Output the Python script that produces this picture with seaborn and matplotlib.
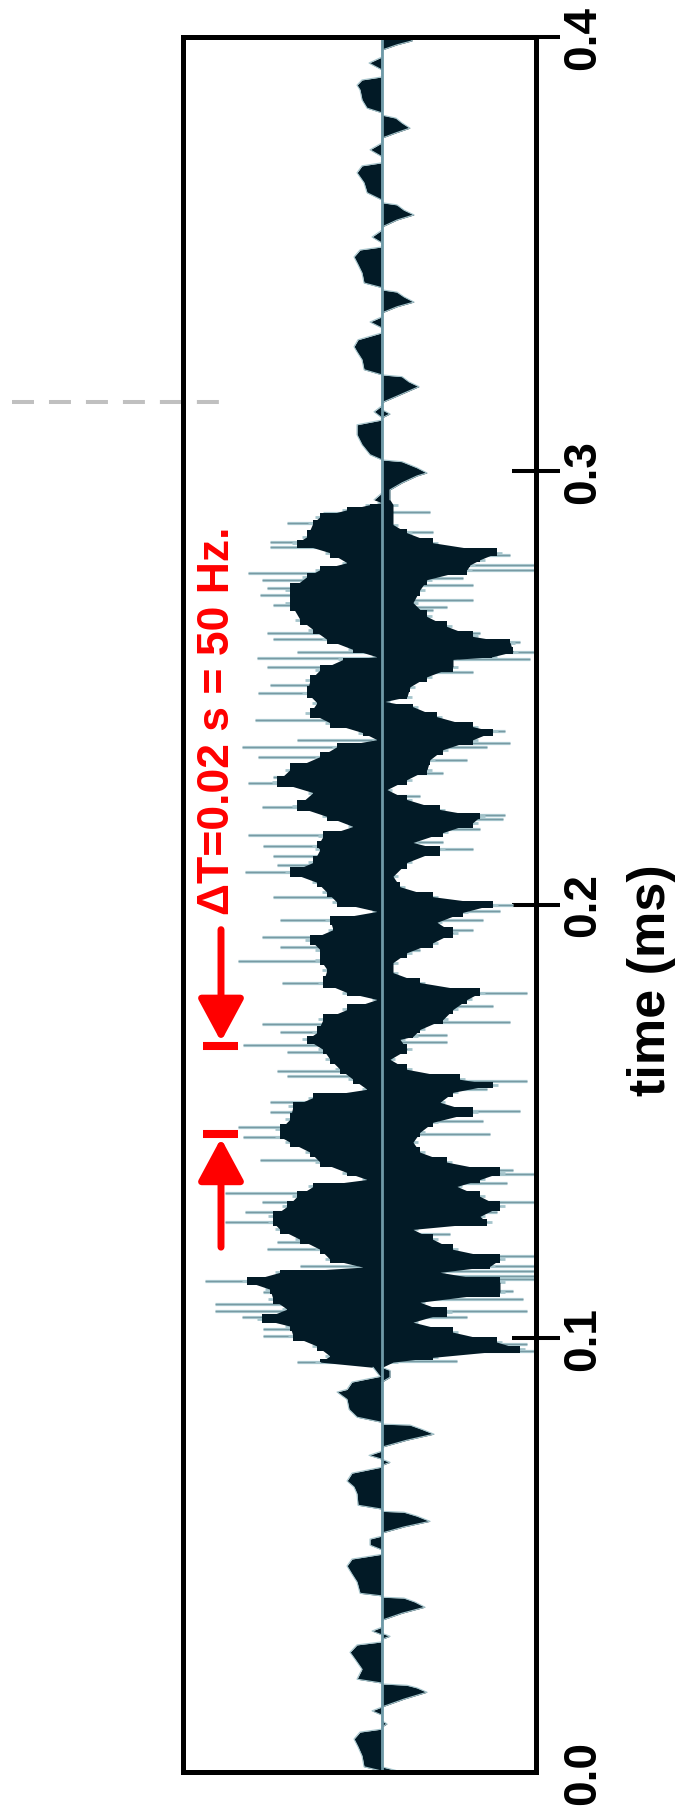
import matplotlib
matplotlib.use("Agg")
import matplotlib.pyplot as plt
from matplotlib.patches import FancyArrowPatch
import seaborn as sns
import pandas as pd

# ---------------- data ----------------
# negative (left) envelope of the waveform: time (ms), amplitude
t_neg = [
    0.0002, 0.0012, 0.0037, 0.0058, 0.0076, 0.0092, 0.0099,
    0.0131, 0.0141, 0.0150,
    0.0205, 0.0214, 0.0237, 0.0260, 0.0276, 0.0293, 0.0300,
    0.0316, 0.0325, 0.0334,
    0.0406, 0.0412, 0.0438, 0.0456, 0.0475, 0.0491, 0.0502,
    0.0512, 0.0523, 0.0537, 0.0544,
    0.0606, 0.0615, 0.0641, 0.0657, 0.0671, 0.0689, 0.0703,
    0.0721, 0.0730, 0.0740,
    0.0806, 0.0818, 0.0836, 0.0859, 0.0876, 0.0882, 0.0899, 0.0912, 0.0933,
    0.0945, 0.0959, 0.0982, 0.1005, 0.1028, 0.1044, 0.1067, 0.1090, 0.1113, 0.1131, 0.1152,
    0.1164, 0.1182, 0.1205, 0.1228, 0.1251, 0.1267, 0.1281, 0.1304, 0.1327, 0.1350,
    0.1366, 0.1382, 0.1406, 0.1429, 0.1452, 0.1465, 0.1482, 0.1505, 0.1535, 0.1555,
    0.1574, 0.1597, 0.1620, 0.1643, 0.1666, 0.1689, 0.1705, 0.1735, 0.1758,
    0.1781, 0.1797, 0.1820, 0.1850, 0.1873, 0.1896, 0.1919, 0.1942, 0.1965,
    0.1984, 0.2005, 0.2028, 0.2051, 0.2074, 0.2097, 0.2127, 0.2134, 0.2157,
    0.2180, 0.2203, 0.2226, 0.2258, 0.2283, 0.2311, 0.2341, 0.2364,
    0.2380, 0.2396, 0.2419, 0.2442, 0.2465, 0.2488, 0.2518, 0.2541, 0.2565,
    0.2571, 0.2588, 0.2611, 0.2634, 0.2657, 0.2696, 0.2726, 0.2756, 0.2772, 0.2788,
    0.2811, 0.2834, 0.2848, 0.2880, 0.2894, 0.2910, 0.2922, 0.2926,
    0.2933, 0.2949,
    0.3025, 0.3037, 0.3060, 0.3083, 0.3106, 0.3117,
    0.3122, 0.3136, 0.3150,
    0.3221, 0.3233, 0.3256, 0.3274, 0.3286, 0.3302, 0.3318,
    0.3329, 0.3343, 0.3355,
    0.3422, 0.3433, 0.3456, 0.3475, 0.3493, 0.3509, 0.3516,
    0.3525, 0.3539, 0.3555,
    0.3624, 0.3641, 0.3664, 0.3687, 0.3703, 0.3710,
    0.3724, 0.3740, 0.3756,
    0.3825, 0.3836, 0.3855, 0.3878, 0.3889, 0.3901, 0.3908,
    0.3924, 0.3940, 0.3954, 0.3998,
]
a_neg = [
    0, -0.18, -0.20, -0.24, -0.28, -0.22, 0,
    0, -0.10, 0,
    0, -0.25, -0.20, -0.27, -0.32, -0.25, 0,
    0, -0.10, 0,
    0, -0.22, -0.25, -0.30, -0.35, -0.30, 0,
    0, -0.12, -0.12, 0,
    0, -0.24, -0.25, -0.28, -0.35, -0.30, 0,
    0, -0.13, 0,
    0, -0.25, -0.33, -0.35, -0.45, -0.35, -0.30, -0.02, -0.09,
    -0.62, -0.52, -0.65, -0.89, -0.92, -1.20, -0.95, -1.09, -1.12, -1.35, -1.02,
    -0.19, -0.52, -0.62, -0.82, -1.02, -1.09, -1.09, -0.95, -0.85, -0.69,
    -0.15, -0.35, -0.62, -0.72, -0.92, -1.02, -1.02, -0.92, -0.89, -0.69,
    -0.15, -0.29, -0.42, -0.52, -0.59, -0.75, -0.65, -0.59, -0.35,
    -0.05, -0.35, -0.59, -0.55, -0.62, -0.62, -0.72, -0.49, -0.52,
    -0.05, -0.45, -0.55, -0.65, -0.92, -0.69, -0.62, -0.65, -0.59,
    -0.29, -0.55, -0.85, -0.69, -1.05, -0.92, -0.62, -0.45,
    -0.05, -0.19, -0.52, -0.72, -0.65, -0.75, -0.72, -0.62, -0.39,
    -0.05, -0.29, -0.55, -0.69, -0.82, -0.92, -0.92, -0.75, -0.62, -0.35,
    -0.52, -0.85, -0.75, -0.69, -0.62, -0.35, -0.12, 0,
    -0.08, 0,
    0, -0.12, -0.20, -0.25, -0.25, 0,
    0, -0.08, 0,
    0, -0.18, -0.20, -0.25, -0.28, -0.24, 0,
    0, -0.12, 0,
    0, -0.18, -0.20, -0.24, -0.28, -0.22, 0,
    0, -0.10, 0,
    0, -0.15, -0.18, -0.25, -0.20, 0,
    0, -0.12, 0,
    0, -0.15, -0.20, -0.22, -0.25, -0.20, 0,
    0, -0.13, 0, 0,
]

# positive (right) envelope of the waveform
t_pos = [
    0.0000, 0.0012,
    0.0104, 0.0111, 0.0118,
    0.0150, 0.0168, 0.0184, 0.0194, 0.0200, 0.0203,
    0.0306, 0.0313, 0.0320,
    0.0350, 0.0366, 0.0380, 0.0392, 0.0401, 0.0403,
    0.0551, 0.0565, 0.0578, 0.0590, 0.0599, 0.0601,
    0.0707, 0.0714, 0.0721,
    0.0749, 0.0765, 0.0779, 0.0790, 0.0800, 0.0802,
    0.0899, 0.0910, 0.0926, 0.0933,
    0.0945, 0.0956, 0.0975, 0.0991, 0.1014, 0.1037, 0.1060, 0.1083, 0.1106, 0.1129,
    0.1152, 0.1166, 0.1182, 0.1205, 0.1228, 0.1251, 0.1267, 0.1281, 0.1304, 0.1327,
    0.1350, 0.1366, 0.1382, 0.1406, 0.1429, 0.1452, 0.1475, 0.1498, 0.1521, 0.1544,
    0.1567, 0.1585, 0.1597, 0.1620, 0.1643, 0.1666, 0.1689, 0.1696, 0.1712, 0.1735,
    0.1758, 0.1781, 0.1797, 0.1820, 0.1843, 0.1866, 0.1889, 0.1912, 0.1935, 0.1959,
    0.1982, 0.2000, 0.2018, 0.2041, 0.2065, 0.2097, 0.2127, 0.2143, 0.2166, 0.2189,
    0.2203, 0.2219, 0.2242, 0.2265, 0.2288, 0.2311, 0.2334, 0.2357, 0.2380, 0.2399,
    0.2410, 0.2433, 0.2456, 0.2468, 0.2479, 0.2502, 0.2525, 0.2548, 0.2565, 0.2571,
    0.2583, 0.2604, 0.2618, 0.2641, 0.2664, 0.2696, 0.2726, 0.2749, 0.2772, 0.2783,
    0.2795, 0.2811, 0.2834, 0.2857, 0.2876, 0.2922, 0.2933, 0.2956,
    0.2972, 0.2988, 0.2995, 0.3007, 0.3021, 0.3025,
    0.3122, 0.3131, 0.3141,
    0.3157, 0.3175, 0.3194, 0.3205, 0.3217, 0.3221,
    0.3364, 0.3378, 0.3389, 0.3401, 0.3412, 0.3417,
    0.3562, 0.3578, 0.3590, 0.3601, 0.3613, 0.3618,
    0.3767, 0.3779, 0.3790, 0.3802, 0.3813, 0.3820,
    0.3970, 0.3982, 0.3991, 0.4000,
]
a_pos = [
    0.20, 0,
    0, 0.05, 0,
    0, 0.22, 0.45, 0.35, 0.25, 0,
    0, 0.08, 0,
    0, 0.20, 0.43, 0.33, 0.22, 0,
    0, 0.22, 0.48, 0.35, 0.22, 0,
    0, 0.08, 0,
    0, 0.25, 0.52, 0.40, 0.28, 0,
    0, 0.08, 0.08, 0,
    0.11, 0.51, 1.38, 1.15, 0.71, 0.31, 0.65, 0.38, 1.18, 1.18,
    0.58, 1.08, 1.18, 0.71, 0.51, 0.31, 1.05, 0.98, 1.18, 0.98,
    0.75, 0.98, 1.18, 0.65, 0.38, 0.31, 0.38, 0.51, 0.91, 0.58,
    0.71, 1.11, 0.78, 0.25, 0.08, 0.25, 0.18, 0.31, 0.38, 0.61,
    0.71, 0.85, 0.98, 0.38, 0.11, 0.11, 0.25, 0.51, 0.71, 0.55,
    0.81, 1.11, 0.51, 0.18, 0.11, 0.25, 0.58, 0.31, 0.61, 0.91,
    0.98, 0.58, 0.25, 0.05, 0.25, 0.45, 0.48, 0.61, 0.91, 1.11,
    0.91, 0.55, 0.31, 0.03, 0.25, 0.28, 0.45, 0.71, 0.71, 1.10,
    1.31, 1.28, 0.91, 0.65, 0.45, 0.31, 0.38, 0.45, 0.85, 0.88,
    0.98, 1.15, 0.51, 0.25, 0.11, 0.11, 0.08, 0.08,
    0.20, 0.35, 0.45, 0.35, 0.20, 0,
    0, 0.08, 0,
    0, 0.18, 0.37, 0.27, 0.20, 0,
    0, 0.15, 0.32, 0.22, 0.15, 0,
    0, 0.15, 0.32, 0.22, 0.15, 0,
    0, 0.14, 0.28, 0.20, 0.14, 0,
    0, 0.15, 0.30, 0.30,
]

# isolated spikes (single samples) sticking out of the envelope
spike_neg_t = [
    0.2903, 0.2880, 0.2836, 0.2825, 0.2765, 0.2749, 0.2730, 0.2714, 0.2691, 0.2627, 0.2611, 0.2583, 0.2569,
    0.2548, 0.2507, 0.2488, 0.2426, 0.2380, 0.2364, 0.2339, 0.2295, 0.2281, 0.2224, 0.2161, 0.2134,
    0.2111, 0.2092, 0.2074, 0.2018, 0.1965, 0.1926, 0.1903, 0.1869, 0.1820, 0.1724, 0.1705,
    0.1677, 0.1659, 0.1615, 0.1604, 0.1544, 0.1521, 0.1486, 0.1463, 0.1412, 0.1336, 0.1313, 0.1290, 0.1267,
    0.1221, 0.1205, 0.1166, 0.1131, 0.1106, 0.1078, 0.1062, 0.1048, 0.1021, 0.1005, 0.0986, 0.0945,
]
spike_neg_a = [
    -0.59, -0.95, -1.12, -1.12, -1.34, -1.20, -1.15, -1.22, -1.09, -1.15, -1.09, -0.85, -1.25,
    -1.15, -1.12, -1.24, -1.27, -0.85, -1.40, -1.24, -1.09, -1.34, -1.20, -1.34, -1.19,
    -1.09, -1.05, -1.37, -1.09, -1.02, -1.20, -1.02, -1.44, -1.00, -1.20, -1.02,
    -1.39, -0.95, -1.05, -0.95, -1.12, -1.12, -1.44, -1.39, -1.22, -1.57, -1.20, -1.37, -1.57,
    -1.05, -1.15, -0.82, -1.77, -1.19, -1.67, -1.67, -1.40, -1.19, -1.19, -0.65, -0.85,
]
spike_pos_t = [
    0.2906, 0.2859, 0.2806, 0.2783, 0.2772, 0.2753, 0.2737, 0.2703, 0.2687, 0.2680, 0.2627, 0.2606, 0.2581,
    0.2565, 0.2535, 0.2399, 0.2373, 0.2362, 0.2334, 0.2304, 0.2249, 0.2207, 0.2196, 0.2173, 0.2143, 0.2127,
    0.2000, 0.1984, 0.1965, 0.1942, 0.1896, 0.1797, 0.1765, 0.1728, 0.1700, 0.1682,
    0.1592, 0.1574, 0.1523, 0.1500, 0.1470, 0.1389, 0.1378, 0.1359, 0.1313, 0.1290,
    0.1240, 0.1221, 0.1189, 0.1166, 0.1154, 0.1143, 0.1136, 0.1108, 0.1090, 0.1062, 0.1048, 0.0986, 0.0970, 0.0947,
]
spike_pos_a = [
    0.48, 0.51, 1.28, 1.55, 1.55, 0.81, 0.91, 0.91, 0.65, 0.51, 0.98, 1.38, 1.55,
    1.48, 0.91, 1.23, 1.28, 1.05, 0.85, 0.61, 0.38, 1.23, 1.21, 0.98, 0.61, 0.91,
    1.31, 1.18, 1.01, 0.91, 0.38, 1.45, 1.11, 1.28, 0.65, 0.65,
    1.45, 1.05, 1.38, 1.01, 1.08, 1.31, 1.55, 1.25, 1.55, 1.15,
    0.68, 0.51, 1.55, 1.55, 1.55, 1.55, 1.55, 1.31, 1.41, 1.45, 0.85, 1.45, 1.55, 0.75,
]

tick_values = [0.0, 0.1, 0.2, 0.3, 0.4]
tick_labels = ["0.0", "0.1", "0.2", "0.3", "0.4"]
axis_label = "time (ms)"
note_text = "\u0394T=0.02 s = 50 Hz."
marker_times = [0.1471, 0.1673]          # the two red bars (ΔT apart)
arrow_tails = [0.1210, 0.1942]           # where the red arrows start
arrow_tips = [0.1461, 0.1684]            # where the red arrows end
dashed_time = 0.3159                     # grey dashed marker outside the frame
busy_span = (0.0940, 0.2930)             # dense (noisy) part of the recording

# ---------------- styling ----------------
sns.set_theme(style="white")
plt.rcParams["font.family"] = ["Liberation Sans", "DejaVu Sans"]

W, H = 683, 1815
fig = plt.figure(figsize=(W / 100, H / 100), dpi=100)
fig.patch.set_facecolor("white")
ax = fig.add_axes([182.5 / W, (H - 1773) / H, (536 - 182.5) / W, (1773 - 38) / H])
ax.set_facecolor("white")

dark = "#021a26"
rim = "#a6c5cc"

neg = pd.DataFrame({"t": t_neg, "amp": a_neg})
pos = pd.DataFrame({"t": t_pos, "amp": a_pos})

# spikes (drawn first, light rim with a faint darker core)
ax.hlines(spike_neg_t, 0, spike_neg_a, color=rim, lw=2.3, zorder=1)
ax.hlines(spike_pos_t, 0, spike_pos_a, color=rim, lw=2.3, zorder=1)
ax.hlines(spike_neg_t, 0, spike_neg_a, color="#557884", lw=0.4, zorder=1.1)
ax.hlines(spike_pos_t, 0, spike_pos_a, color="#557884", lw=0.4, zorder=1.1)

# envelope: light rim (one sample line per reading) then dark body
for df, side in ((neg, -1), (pos, 1)):
    busy = df[(df["t"] >= busy_span[0]) & (df["t"] <= busy_span[1])]
    ax.hlines(busy["t"], 0, busy["amp"] + side * 0.05, color=rim, lw=2.0, zorder=1.5)
    ax.fill_betweenx(busy["t"], busy["amp"], 0, step="mid", color=dark, lw=0, zorder=2)
    ax.fill_betweenx(df["t"], df["amp"], 0, color=dark, lw=0, zorder=2)
    # thin light outline on the quiet parts (before and after the busy burst)
    for part in (df[df["t"] < busy_span[0]], df[df["t"] > busy_span[1]]):
        sns.lineplot(data=part, x="amp", y="t", orient="y", sort=False, estimator=None,
                     color=rim, lw=0.8, ax=ax, zorder=2.5)

# zero line
ax.axvline(0, color="#6f9aa8", lw=2.0, zorder=3)

ax.set_xlim(-1.995, 1.54)
ax.set_ylim(0, 0.4)
ax.set_xlabel("")
ax.set_xticks([])

# frame
for s in ax.spines.values():
    s.set_visible(True)
    s.set_linewidth(3.6)
    s.set_color("black")
    s.set_zorder(6)

# time axis on the right
ax.yaxis.tick_right()
ax.set_yticks(tick_values)
ax.set_yticklabels(tick_labels)
ax.tick_params(axis="y", which="major", direction="inout", length=34, width=2.9,
               color="black", right=True, left=False, labelright=True, labelleft=False,
               pad=1, labelsize=33, labelcolor="black")
for lab in ax.get_yticklabels():
    lab.set_rotation(90)
    lab.set_fontweight("bold")
    lab.set_va("center")
    lab.set_ha("left")
ax.yaxis.get_major_ticks()[0].tick2line.set_visible(False)

ax.yaxis.set_label_position("right")
ax.set_ylabel(axis_label, fontsize=37.5, fontweight="bold", rotation=90, color="black")
ax.yaxis.label.set_va("center")
ax.yaxis.label.set_ha("center")
ax.yaxis.set_label_coords((652 - 182.5) / (536 - 182.5), 0.1827 / 0.4)

# red annotation
red = "#ff0000"
ax.text(-1.65, 0.2425, note_text, rotation=90, color=red, fontsize=32,
        fontweight="bold", ha="center", va="center", zorder=7)
ax.hlines(marker_times, -1.79, -1.44, color=red, lw=5.8, zorder=7)
for tail, tip in zip(arrow_tails, arrow_tips):
    arr = FancyArrowPatch((-1.61, tail), (-1.61, tip),
                          arrowstyle="-|>,head_length=2.6,head_width=1.4",
                          mutation_scale=10, lw=5.0, color=red,
                          shrinkA=0, shrinkB=0, zorder=7)
    ax.add_patch(arr)

# grey dashed marker left of the frame
ax.plot([-3.70, -1.62], [dashed_time, dashed_time], color="#c0c0c0", lw=2.9,
        ls=(0, (5.46, 3.72)), clip_on=False, zorder=0)

fig.savefig("out.png", dpi=100, facecolor="white")
